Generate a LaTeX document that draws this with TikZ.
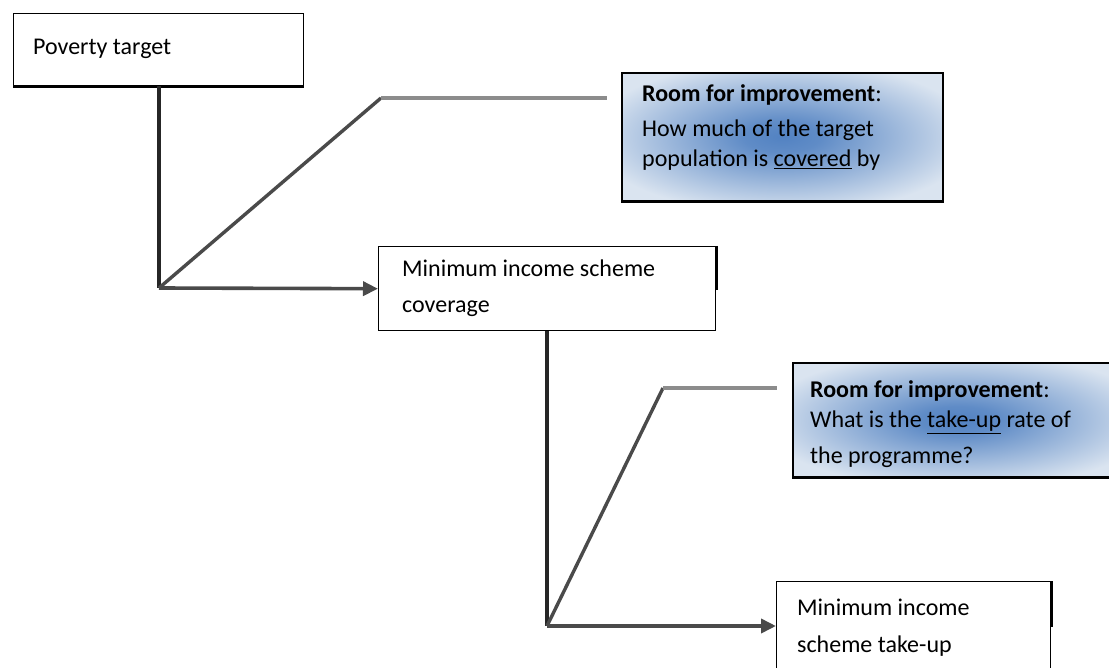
\documentclass[tikz,border=0pt]{standalone}
\usepackage{fontspec}
\setmainfont{Carlito}
\usetikzlibrary{arrows.meta}
\definecolor{redge}{HTML}{DAE4F0}
\definecolor{rcenter}{HTML}{5282C2}
\definecolor{lineA}{HTML}{262626}
\definecolor{lineB}{HTML}{4A4A4A}
\definecolor{lineC}{HTML}{8C8C8C}
\pgfdeclareradialshading{roomshade}{\pgfpoint{0bp}{0bp}}{color(0bp)=(rcenter); color(6bp)=(rcenter!90!redge); color(30bp)=(redge); color(50bp)=(redge)}
\begin{document}
\begin{tikzpicture}[x=1pt,y=-1pt,
  plainbox/.style={draw=black, line width=1.4pt, fill=white, rectangle, inner sep=0pt, anchor=north west},
  roombox/.style={draw=black, line width=1.8pt, rectangle, inner sep=0pt, anchor=north west, shading=roomshade},
  txt/.style={anchor=base west, inner sep=0pt, font=\fontsize{24}{30}\selectfont, text=black},
  stem/.style={draw=lineA, line width=4pt},
  flow/.style={draw=lineB, line width=3.6pt, -{Triangle[length=15pt,width=14pt]}},
  diag/.style={draw=lineB, line width=3.4pt},
  lead/.style={draw=lineC, line width=3.6pt}
]
\useasboundingbox (0,0) rectangle (1109,668);
\fill[white] (0,0) rectangle (1109,668);
\clip (0,0) rectangle (1109,668);

% boxes
\node[plainbox, minimum width=290pt, minimum height=72pt] (pov) at (13,13) {};
\node[roombox, minimum width=321pt, minimum height=128pt] (room1) at (621,72) {};
\node[plainbox, minimum width=337pt, minimum height=84pt] (cov) at (378,246) {};
\node[roombox, minimum width=330pt, minimum height=114pt] (room2) at (792,362) {};
\node[plainbox, minimum width=274pt, minimum height=120pt] (take) at (776,581) {};

% shadow edges
\draw[line width=3pt] (pov.south west) -- (pov.south east);
\draw[line width=3pt] (room1.south west) -- (room1.south east);
\draw[line width=3pt] (room2.south west) -- (room2.south east);
\draw[line width=3pt] (cov.north east) -- ([yshift=-44pt]cov.north east);
\draw[line width=3pt] (take.north east) -- ([yshift=-46pt]take.north east);

% texts
\node[txt] (povt) at (33,55) {Poverty target};
\node[txt] (r1a) at (642,102) {\textbf{Room for improvement}:};
\node[txt] (r1b) at (642,137) {How much of the target};
\node[txt] (r1c) at (642,167) {population is \underline{covered} by};
\node[txt] (cova) at (402,277) {Minimum income scheme};
\node[txt] (covb) at (402,313) {coverage};
\node[txt] (r2a) at (810,397) {\textbf{Room for improvement}:};
\node[txt] (r2b) at (810,428) {What is the \underline{take-up} rate of};
\node[txt] (r2c) at (810,463) {the programme?};
\node[txt] (ta) at (797,615) {Minimum income};
\node[txt] (tb) at (797,652) {scheme take-up};

% connectors
\coordinate (c1) at (159,288);
\coordinate (k1) at (381,98);
\coordinate (e1) at (607,98);
\coordinate (c2) at (547,626);
\coordinate (k2) at (663,388);
\coordinate (e2) at (777,388);

\draw[stem] (pov.south -| c1) -- (c1);
\draw[diag] (c1) -- (k1);
\draw[lead] (k1) -- (e1);
\draw[flow] (c1) -- (cov.west);

\draw[stem] (cov.south -| c2) -- (c2);
\draw[diag] (c2) -- (k2);
\draw[lead] (k2) -- (e2);
\draw[flow] (c2) -- (c2 -| take.west);
\end{tikzpicture}
\end{document}
